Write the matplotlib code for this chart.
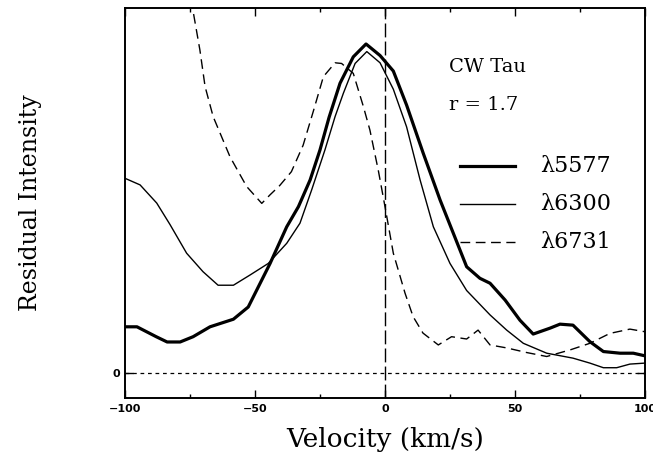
"""CW Tau line profiles: [OI] 5577, 6300 and [SII] 6731 residual intensity."""
import numpy as np
import matplotlib
matplotlib.use('Agg')
import matplotlib.pyplot as plt
from matplotlib.ticker import MultipleLocator, FixedLocator

# values (velocity km/s, residual intensity, arbitrary units)
v5577 = [-100, -95.4, -88, -83.8, -78.8, -73.8, -67.3, -58.3, -52.6, -44.2, -37.8,
         -33.3, -28.8, -25, -21.5, -17.3, -12.2, -7.3, -1.9, 3.2, 8.3, 14.7, 21.2,
         26.3, 31.4, 36.5, 40.4, 46.2, 51.9, 57, 63.5, 67.3, 72.3, 78.8, 84, 90.4, 95.5, 100]
i5577 = [0.14, 0.14, 0.11, 0.094, 0.094, 0.11, 0.14, 0.163, 0.2, 0.332, 0.443,
         0.504, 0.585, 0.676, 0.775, 0.878, 0.958, 0.997, 0.962, 0.915, 0.812, 0.666, 0.524,
         0.423, 0.322, 0.287, 0.272, 0.221, 0.16, 0.118, 0.136, 0.148, 0.145, 0.095, 0.065, 0.06, 0.06, 0.052]

v6300 = [-100, -94.2, -87.8, -82.7, -76.3, -70, -64.2, -58.3, -51.9, -44.9, -37.8,
         -32.7, -28.2, -23.1, -19.2, -16, -11.5, -7, -1.9, 3.2, 8.3, 13.5, 18.6, 25,
         31.4, 40.4, 46.8, 53.2, 62.2, 72.3, 78.8, 84, 89.1, 94.2, 100]
i6300 = [0.59, 0.57, 0.515, 0.45, 0.363, 0.307, 0.266, 0.266, 0.297, 0.332, 0.393,
         0.454, 0.555, 0.676, 0.777, 0.848, 0.938, 0.974, 0.94, 0.86, 0.746, 0.585, 0.443, 0.332,
         0.25, 0.176, 0.13, 0.09, 0.06, 0.045, 0.03, 0.016, 0.016, 0.027, 0.03]

v6731 = [-75, -71.2, -69.2, -66.1, -59.6, -53.2, -47.4, -44.2, -40.5, -36, -31.5, -27.5,
         -23.7, -19.2, -16.7, -12.2, -8.3, -5.8, -2.6, 0, 3.2, 7.7, 10.8, 14.6, 20.5,
         25.6, 31.4, 35.8, 40.4, 46.8, 54.5, 62.2, 71.2, 78.8, 86.5, 94.2, 100]
i6731 = [1.15, 0.979, 0.868, 0.777, 0.655, 0.565, 0.514, 0.54, 0.568, 0.61, 0.69, 0.795,
         0.898, 0.94, 0.938, 0.908, 0.807, 0.736, 0.615, 0.504, 0.363, 0.242, 0.171, 0.121, 0.085,
         0.11, 0.103, 0.13, 0.085, 0.076, 0.062, 0.05, 0.07, 0.09, 0.12, 0.133, 0.125]

LABELS = ['λ5577', 'λ6300', 'λ6731']
OBJECT = 'CW Tau'
RATIO = 'r = 1.7'

SERIF = ['DejaVu Serif']

fig = plt.figure(figsize=(6.53, 4.63), dpi=100)
ax = fig.add_axes([125 / 653, 1 - 398 / 463, 520 / 653, 390 / 463])

ax.plot(v5577, i5577, color='black', lw=2.3, solid_joinstyle='round')
ax.plot(v6300, i6300, color='black', lw=1.0)
ax.plot(v6731, i6731, color='black', lw=1.0, dashes=(7, 4))
ax.axvline(0, color='black', lw=1.0, dashes=(10, 3))
ax.axhline(0, color='black', lw=0.9, dashes=(3, 3))

ax.set_xlim(-100, 100)
ax.set_ylim(-25 / 330, 365 / 330)

ax.xaxis.set_major_locator(MultipleLocator(50))
ax.xaxis.set_minor_locator(MultipleLocator(25))
ax.yaxis.set_major_locator(FixedLocator([0]))
ax.tick_params(which='both', direction='in', top=True, right=True, color='black', width=1.0)
ax.tick_params(which='major', length=6)
ax.tick_params(which='minor', length=3)
for lab in ax.get_xticklabels() + ax.get_yticklabels():
    lab.set_fontweight('bold')
    lab.set_fontsize(8)
ax.tick_params(axis='x', pad=4)
for s in ax.spines.values():
    s.set_linewidth(1.4)

ax.set_xlabel('Velocity (km/s)', fontsize=19, family=SERIF, labelpad=10)
ax.set_ylabel('Residual Intensity', fontsize=17, family=SERIF, labelpad=51)

# legend drawn by hand in axes coords
ax.text(0.623, 0.849, OBJECT, transform=ax.transAxes, fontsize=14, family=SERIF,
        ha='left', va='center')
ax.text(0.623, 0.751, RATIO, transform=ax.transAxes, fontsize=14, family=SERIF,
        ha='left', va='center')
styles = [dict(lw=2.3), dict(lw=1.0), dict(lw=1.0, dashes=(7, 4))]
for k, (lab, st) in enumerate(zip(LABELS, styles)):
    y = 0.595 - k * 0.0975
    ax.plot([0.644, 0.75], [y, y], transform=ax.transAxes, color='black', **st)
    ax.text(0.798, y, lab, transform=ax.transAxes, fontsize=16, family=SERIF,
            ha='left', va='center')

fig.savefig('out.png', dpi=100)
